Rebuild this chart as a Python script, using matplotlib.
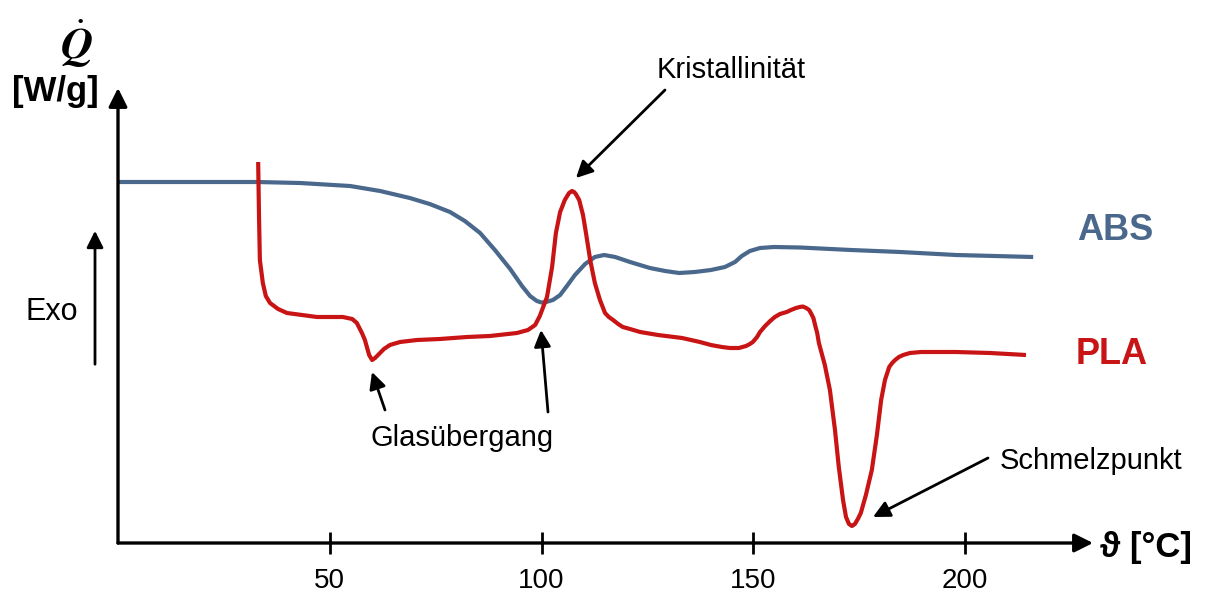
import matplotlib
matplotlib.use("Agg")
import matplotlib.pyplot as plt
import matplotlib.patches as mpatches

abs_T = [0.0, 32.8, 43.0, 50.8, 54.8, 61.9, 68.9, 73.6, 78.4, 81.9, 85.5, 89.0,
         92.6, 95.4, 97.3, 98.9, 100.0, 101.1, 102.7, 104.4, 106.0, 107.9, 110.3,
         112.6, 114.8, 117.4, 120.9, 125.6, 129.2, 132.5, 136.2, 140.0, 143.3,
         145.7, 147.3, 149.2, 151.6, 154.9, 161.0, 173.1, 184.7, 197.9, 216.1]
abs_Q = [3.61, 3.61, 3.60, 3.58, 3.57, 3.52, 3.45, 3.39, 3.31, 3.22, 3.10, 2.93,
         2.74, 2.57, 2.47, 2.42, 2.405, 2.41, 2.43, 2.48, 2.57, 2.68, 2.79,
         2.86, 2.88, 2.86, 2.81, 2.75, 2.72, 2.70, 2.71, 2.73, 2.76,
         2.81, 2.87, 2.92, 2.95, 2.96, 2.955, 2.93, 2.91, 2.88, 2.86]

pla_T = [33.1, 33.3, 33.5, 34.2, 34.9, 35.9, 37.8, 39.9, 47.0, 53.1, 55.3, 56.4,
         57.6, 58.3, 59.3, 60.0, 60.7, 61.4, 62.8, 64.2, 66.6, 70.6, 76.0, 82.4,
         87.8, 94.2, 96.8, 98.5, 99.6, 100.4, 101.3, 102.5, 103.4, 104.4, 105.5,
         106.5, 107.2, 107.7, 108.1, 108.9, 109.8, 110.5, 111.5, 112.6, 113.8,
         115.0, 115.9, 116.9, 118.1, 119.2, 120.9, 123.3, 127.5, 133.2, 137.4,
         140.0, 142.6, 144.5, 146.6, 148.3, 149.2, 149.9, 150.9, 151.6, 152.8,
         154.0, 155.1, 156.3, 157.9, 158.9, 160.1, 161.0, 161.7, 162.5, 163.2,
         163.6, 164.2, 164.6, 165.1, 165.5, 166.9, 168.1, 169.3, 170.2, 171.2,
         171.9, 172.6, 173.3, 174.0, 174.7, 175.4, 176.6, 178.0, 179.2, 180.2,
         181.1, 182.1, 182.8, 183.5, 184.4, 185.4, 187.0, 189.6, 197.9, 205.9,
         214.4]
pla_Q = [3.81, 3.26, 2.83, 2.60, 2.47, 2.40, 2.34, 2.30, 2.26, 2.26, 2.24, 2.20,
         2.10, 2.03, 1.88, 1.83, 1.85, 1.88, 1.94, 1.98, 2.01, 2.03, 2.04, 2.06,
         2.07, 2.10, 2.13, 2.18, 2.27, 2.36, 2.46, 2.76, 3.10, 3.31, 3.43,
         3.50, 3.52, 3.51, 3.49, 3.43, 3.28, 3.10, 2.83, 2.60, 2.43,
         2.30, 2.26, 2.23, 2.19, 2.16, 2.14, 2.11, 2.08, 2.05, 2.01,
         1.98, 1.96, 1.95, 1.95, 1.97, 1.99, 2.01, 2.06, 2.11, 2.17,
         2.22, 2.26, 2.29, 2.31, 2.33, 2.35, 2.36, 2.365, 2.35, 2.33,
         2.30, 2.25, 2.18, 2.10, 2.00, 1.78, 1.53, 1.13, 0.76, 0.43,
         0.26, 0.19, 0.17, 0.19, 0.24, 0.30, 0.48, 0.73, 1.08, 1.43,
         1.63, 1.76, 1.80, 1.83, 1.86, 1.88, 1.90, 1.91, 1.91, 1.90,
         1.88]

x_ticks = [50, 100, 150, 200]

C_ABS = "#4a688c"
C_PLA = "#c81414"
FONT = ["Liberation Sans", "DejaVu Sans"]

plt.rcParams["font.family"] = FONT
plt.rcParams["mathtext.fontset"] = "stix"

W, H = 1205, 596
fig = plt.figure(figsize=(W / 100, H / 100), dpi=100)

# Achsen: Ursprung bei Pixel (118, 543), Pfeilspitzen bei x=1093 bzw. y=88
ax = fig.add_axes([118 / W, (H - 543) / H, (1093 - 118) / W, (543 - 88) / H])
PX_PER_DEG = 4.235
ax.set_xlim(0, (1093 - 118) / PX_PER_DEG)
ax.set_ylim(0, 4.55)


def px(x, y):
    """Pixelkoordinaten -> Datenkoordinaten."""
    return ((x - 118) / PX_PER_DEG, (543 - y) / 100)


for s in ax.spines.values():
    s.set_visible(False)

arrow_kw = dict(arrowstyle="-|>", lw=2.4, color="black", mutation_scale=28,
                shrinkA=0, shrinkB=0)
ax.annotate("", xy=(1, 0), xytext=(0, 0), xycoords="axes fraction",
            arrowprops=arrow_kw, annotation_clip=False)
ax.annotate("", xy=(0, 1), xytext=(0, 0), xycoords="axes fraction",
            arrowprops=arrow_kw, annotation_clip=False)

ax.set_xticks(x_ticks)
ax.set_xticklabels([str(t) for t in x_ticks], fontsize=20)
ax.tick_params(axis="x", direction="inout", length=16, width=2, pad=10)
ax.set_yticks([])

# ── Kurven ───────────────────────────────────────────────────────────────────
line_kw = dict(lw=3, solid_capstyle="butt", solid_joinstyle="round", clip_on=False)
ax.plot(abs_T, abs_Q, color=C_ABS, **line_kw)
ax.plot(pla_T, pla_Q, color=C_PLA, **line_kw)

ax.text(*px(1115, 230), "ABS", color=C_ABS, fontsize=26, fontweight="bold",
        ha="center", va="center")
ax.text(*px(1112, 355), "PLA", color=C_PLA, fontsize=26, fontweight="bold",
        ha="center", va="center")

# ── Beschriftungen mit Pfeilen ───────────────────────────────────────────────
ann_kw = dict(arrowstyle="-|>", lw=2, color="black", mutation_scale=25,
              shrinkA=0, shrinkB=0)
ax.annotate("", xy=px(576, 178), xytext=px(665, 90), arrowprops=ann_kw,
            annotation_clip=False)
ax.text(*px(731, 70), "Kristallinität", fontsize=21, ha="center", va="center")

ax.annotate("", xy=px(372, 372), xytext=px(385, 410), arrowprops=ann_kw)
ax.annotate("", xy=px(541, 330), xytext=px(548, 412), arrowprops=ann_kw)
ax.text(*px(462, 438), "Glasübergang", fontsize=21, ha="center", va="center")

ax.annotate("", xy=px(873, 517), xytext=px(988, 458), arrowprops=ann_kw)
ax.text(*px(1091, 461), "Schmelzpunkt", fontsize=21, ha="center", va="center")

# ── Achsentitel ──────────────────────────────────────────────────────────────
fig.text(1146 / W, 1 - 547 / H, "ϑ [°C]", fontsize=25, fontweight="bold",
         ha="center", va="center", family=FONT)
fig.text(55 / W, 1 - 91 / H, "[W/g]", fontsize=25, fontweight="bold",
         ha="center", va="center")
fig.text(76 / W, 1 - 44 / H, r"$\dot{\mathbfit{Q}}$", fontsize=32,
         ha="center", va="center")

# Exo-Pfeil
fig.text(52 / W, 1 - 312 / H, "Exo", fontsize=22, ha="center", va="center")
fig.patches.append(mpatches.FancyArrowPatch(
    (95 / W, 1 - 367 / H), (95 / W, 1 - 228 / H), transform=fig.transFigure,
    arrowstyle="-|>", lw=2, color="black", mutation_scale=25))

fig.savefig("out.png", dpi=100)
